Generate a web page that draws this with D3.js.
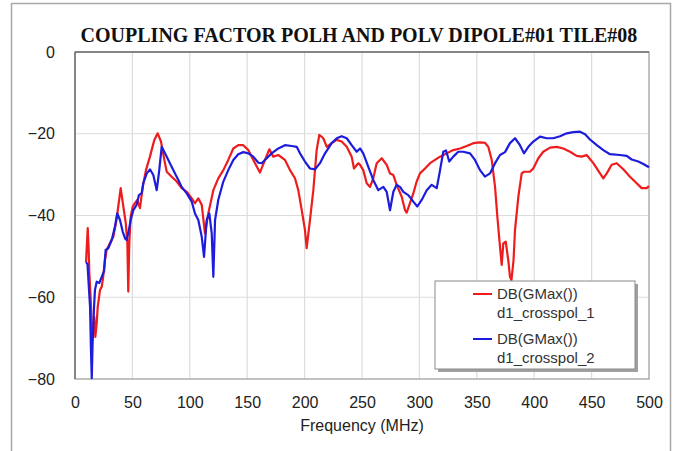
<!DOCTYPE html>
<html>
<head>
<meta charset="utf-8">
<script src="https://cdn.jsdelivr.net/npm/d3@7"></script>
<style>
  html, body { margin: 0; padding: 0; background: #fff; }
  svg { display: block; }
  text { font-family: "Liberation Sans", Arial, sans-serif; }
</style>
</head>
<body>
<svg id="chart" width="680" height="451"></svg>
<script>
// ---- data ----
const titleText = "COUPLING FACTOR POLH AND POLV DIPOLE#01 TILE#08";
const xLabel = "Frequency (MHz)";
const xTicks = [0, 50, 100, 150, 200, 250, 300, 350, 400, 450, 500];
const yTicks = [0, -20, -40, -60, -80];
const seriesNames = [["DB(GMax())", "d1_crosspol_1"], ["DB(GMax())", "d1_crosspol_2"]];

const redFreq = [9.6,11.1,11.9,12.5,13.7,14.6,15.1,15.9,16.8,17.7,18.9,19.8,20.6,21.8,23.3,24.4,26.1,27.6,30.5,33.4,35.7,37.7,39.8,42.1,44.2,45.6,46.4,47.3,48.5,50.3,52.3,54.3,56.6,59.0,61.8,65.3,69.1,72.0,74.9,77.8,79.9,84.2,88.6,92.9,97.3,101.7,104.5,107.4,110.4,113.2,116.1,120.5,124.8,129.2,133.5,137.9,142.2,146.6,151.0,155.3,161.1,165.5,169.3,172.7,177.1,182.9,187.3,191.6,194.5,197.5,200.3,201.8,204.7,207.6,210.5,212.8,216.3,219.3,223.6,228.0,232.3,236.7,241.0,243.0,246.8,248.3,251.1,254.1,257.0,259.8,262.8,267.2,271.5,274.4,277.3,280.2,284.6,287.5,288.9,291.8,294.7,297.6,300.5,304.9,309.3,313.6,318.0,323.8,329.5,335.4,341.2,347.0,352.8,357.1,360.0,363.0,365.9,367.9,370.2,371.7,373.1,375.2,377.4,378.9,380.2,382.0,383.3,386.2,389.1,391.1,396.3,399.2,403.6,407.9,413.8,419.6,425.4,431.2,437.0,441.4,445.7,451.5,457.3,460.2,463.2,467.5,471.9,477.6,483.4,489.3,493.6,498.0,500.0];
const redDb = [-51.4,-43.1,-48.4,-54.1,-60.7,-67.2,-70.5,-68.7,-64.8,-69.7,-66.4,-62.3,-60.7,-58.2,-57.4,-55.3,-50.9,-48.4,-46.7,-45.2,-41.8,-37.8,-33.3,-37.8,-41.8,-46.7,-58.6,-46.7,-40.3,-37.8,-36.9,-36.2,-38.2,-33.0,-28.9,-25.6,-21.5,-19.9,-21.9,-26.4,-29.3,-30.5,-31.7,-33.3,-34.2,-35.8,-37.0,-35.8,-37.4,-44.4,-39.5,-33.8,-30.9,-28.9,-26.4,-23.6,-22.8,-22.8,-24.0,-26.4,-29.5,-26.4,-23.8,-25.6,-25.2,-26.4,-28.9,-30.9,-33.8,-38.7,-43.5,-48.0,-41.1,-33.8,-24.0,-20.3,-21.1,-23.2,-22.3,-21.5,-21.9,-23.2,-25.6,-28.5,-27.2,-27.6,-28.9,-32.1,-33.0,-30.9,-27.2,-26.0,-27.6,-29.7,-30.1,-32.5,-35.4,-38.7,-39.3,-37.0,-34.6,-31.7,-29.7,-28.5,-27.2,-26.4,-25.6,-24.8,-24.0,-23.6,-23.0,-22.3,-22.1,-22.2,-23.2,-26.4,-33.0,-40.3,-47.6,-52.1,-46.8,-46.4,-50.9,-55.0,-55.8,-50.9,-43.5,-35.4,-29.7,-29.3,-29.3,-28.5,-26.0,-24.4,-23.4,-23.2,-23.6,-24.4,-25.4,-25.6,-25.2,-27.2,-29.7,-30.9,-29.7,-27.6,-27.2,-28.7,-30.5,-32.1,-33.3,-33.3,-32.8];

const blueFreq = [9.6,10.9,12.2,13.1,13.9,14.6,15.4,16.6,17.4,18.9,21.2,23.3,25.3,26.7,29.0,32.0,34.8,36.8,39.2,41.6,43.6,45.0,46.4,48.5,50.8,53.7,55.7,58.1,59.5,62.5,65.3,68.2,71.2,73.4,75.5,78.4,81.3,84.2,87.1,90.0,92.9,97.3,101.7,104.5,107.4,110.4,112.4,114.7,117.0,119.1,120.5,122.0,124.8,129.2,133.5,137.9,142.2,146.6,151.0,155.3,159.7,162.6,167.0,171.3,177.1,182.9,188.8,193.1,196.0,200.3,204.7,209.1,213.4,217.8,223.6,228.0,232.3,236.7,241.0,245.4,248.3,251.1,255.5,259.8,264.2,268.6,271.5,274.4,277.3,280.2,283.1,286.0,290.3,294.7,298.2,302.0,306.4,310.7,315.1,318.0,320.8,323.2,326.0,329.5,333.9,338.2,344.1,348.4,352.8,357.1,361.5,365.9,370.2,374.6,378.9,383.3,387.6,391.1,394.9,399.2,405.1,410.9,416.6,422.5,428.3,434.1,439.9,444.3,448.6,454.5,460.2,466.0,474.7,480.6,484.9,490.7,495.1,500.0];
const blueDb = [-51.4,-51.9,-58.2,-62.3,-72.9,-79.8,-70.5,-62.3,-58.2,-56.2,-56.5,-55.0,-53.6,-48.4,-48.0,-46.0,-42.7,-39.5,-41.1,-44.0,-45.6,-46.0,-44.3,-41.1,-38.7,-37.4,-35.0,-34.5,-32.1,-29.7,-28.7,-30.1,-33.8,-28.9,-23.2,-24.8,-26.4,-28.1,-29.7,-31.3,-33.0,-34.6,-36.6,-39.5,-41.1,-45.2,-50.1,-41.1,-39.5,-44.4,-55.0,-41.1,-36.2,-31.7,-28.9,-26.4,-25.0,-24.5,-24.8,-25.6,-27.1,-27.2,-26.0,-24.8,-23.6,-22.8,-23.0,-23.2,-24.8,-26.8,-28.5,-28.7,-27.2,-24.8,-22.3,-21.1,-20.6,-21.1,-22.8,-24.4,-23.6,-24.8,-28.1,-31.3,-33.8,-33.0,-34.2,-38.7,-34.2,-32.5,-33.0,-34.2,-35.0,-36.6,-37.8,-36.2,-33.8,-32.5,-33.3,-28.9,-24.4,-24.1,-26.8,-25.6,-24.4,-24.4,-24.8,-26.4,-28.9,-30.5,-29.7,-27.2,-25.2,-24.5,-22.3,-21.1,-22.8,-24.8,-23.2,-21.9,-20.7,-21.1,-21.1,-20.6,-19.9,-19.6,-19.5,-20.1,-21.4,-22.8,-24.0,-25.0,-25.2,-25.4,-26.3,-26.8,-27.4,-28.2];

const seriesColors = ["#ee1c1c", "#1c1cdc"];

// ---- drawing ----
const svg = d3.select("#chart");
const W = 680, H = 451;
const margin = { left: 75, right: W - 649, top: 52, bottom: H - 379 };
const x = d3.scaleLinear().domain([0, 500]).range([margin.left, W - margin.right]);
const y = d3.scaleLinear().domain([-80, 0]).range([H - margin.bottom, margin.top]);

// outer window frame
svg.append("rect").attr("x", 11.5).attr("y", 3.5).attr("width", 659).attr("height", 460)
  .attr("fill", "#fff").attr("stroke", "#a8a8a8").attr("stroke-width", 1.5);

// title
svg.append("text").attr("x", 359).attr("y", 42).attr("text-anchor", "middle")
  .style("font-family", "'Liberation Serif', 'Times New Roman', serif")
  .style("font-weight", "bold").style("font-size", "20px").attr("fill", "#111")
  .text(titleText);

// grid
const grid = svg.append("g");
grid.selectAll("line.vx").data(xTicks.slice(1, -1)).join("line")
  .attr("x1", d => x(d)).attr("x2", d => x(d))
  .attr("y1", y(0)).attr("y2", y(-80))
  .attr("stroke", "#dcdcdc").attr("stroke-width", 1.2);
grid.selectAll("line.hy").data(yTicks.slice(1, -1)).join("line")
  .attr("x1", x(0)).attr("x2", x(500))
  .attr("y1", d => y(d)).attr("y2", d => y(d))
  .attr("stroke", "#dcdcdc").attr("stroke-width", 1.2);

// frame
svg.append("rect").attr("x", x(0)).attr("y", y(0))
  .attr("width", x(500) - x(0)).attr("height", y(-80) - y(0))
  .attr("fill", "none").attr("stroke", "#9a9a9a").attr("stroke-width", 1.2);
svg.append("line").attr("x1", x(0)).attr("x2", x(0)).attr("y1", y(0)).attr("y2", y(-80))
  .attr("stroke", "#707070").attr("stroke-width", 1.5);
svg.append("line").attr("x1", x(0)).attr("x2", x(500)).attr("y1", y(0)).attr("y2", y(0))
  .attr("stroke", "#707070").attr("stroke-width", 1.5);

// axes
const xAxis = d3.axisBottom(x).tickValues(xTicks).tickSize(0).tickPadding(18);
const gx = svg.append("g").attr("transform", `translate(0,${y(-80)})`).call(xAxis);
gx.select(".domain").remove();
gx.selectAll("text").style("font-size", "16px").attr("fill", "#222");

const yAxis = d3.axisLeft(y).tickValues(yTicks).tickSize(0).tickPadding(20);
const gy = svg.append("g").attr("transform", `translate(${x(0)},0)`).call(yAxis);
gy.select(".domain").remove();
gy.selectAll("text").style("font-size", "16px").attr("fill", "#222");

svg.append("text").attr("x", (x(0) + x(500)) / 2).attr("y", 431)
  .attr("text-anchor", "middle").style("font-size", "16px").attr("fill", "#222")
  .text(xLabel);

// lines
const line = d3.line().x(d => x(d[0])).y(d => y(d[1]));
const redData = d3.zip(redFreq, redDb);
const blueData = d3.zip(blueFreq, blueDb);
svg.append("path").datum(redData).attr("d", line).attr("fill", "none")
  .attr("stroke", seriesColors[0]).attr("stroke-width", 2.2).attr("stroke-linejoin", "round");
svg.append("path").datum(blueData).attr("d", line).attr("fill", "none")
  .attr("stroke", seriesColors[1]).attr("stroke-width", 2.2).attr("stroke-linejoin", "round");

// legend
const lg = svg.append("g");
const lx = 435, ly = 281, lw = 200, lh = 88;
lg.append("rect").attr("x", lx + 3).attr("y", ly + 3).attr("width", lw).attr("height", lh)
  .attr("fill", "#a0a0a0");
lg.append("rect").attr("x", lx).attr("y", ly).attr("width", lw).attr("height", lh)
  .attr("fill", "#fff").attr("stroke", "#8a8a8a").attr("stroke-width", 1);
seriesNames.forEach((names, i) => {
  const cy = ly + 13 + i * 45;
  lg.append("line").attr("x1", lx + 38).attr("x2", lx + 57).attr("y1", cy).attr("y2", cy)
    .attr("stroke", seriesColors[i]).attr("stroke-width", 2);
  lg.append("text").attr("x", lx + 62).attr("y", cy + 5).style("font-size", "15px")
    .attr("fill", "#333").text(names[0]);
  lg.append("text").attr("x", lx + 62).attr("y", cy + 24).style("font-size", "15px")
    .attr("fill", "#333").text(names[1]);
});
</script>
</body>
</html>
